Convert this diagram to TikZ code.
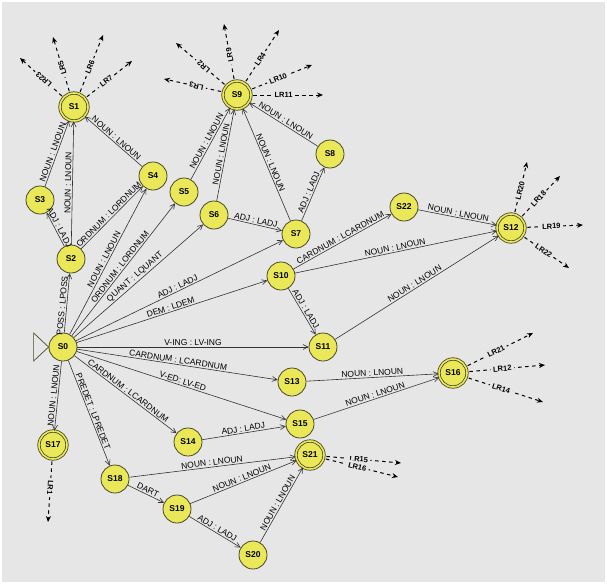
\documentclass[tikz,border=0pt]{standalone}
\usepackage{fontspec}
\setmainfont{Liberation Sans}
\setsansfont{Liberation Sans}
\usepackage{xcolor}
\usepackage{tikz}
\usetikzlibrary{arrows.meta}

\definecolor{bggrey}{RGB}{230,230,230}
\definecolor{stateyellow}{RGB}{234,231,88}
\definecolor{stateline}{RGB}{72,72,40}
\definecolor{edgeline}{RGB}{50,50,50}

\begin{document}
\begin{tikzpicture}[x=1pt,y=-1pt,
    state/.style={circle,draw=stateline,fill=stateyellow,line width=0.8pt,minimum size=28pt,inner sep=0pt,font=\fontsize{8.5}{9}\selectfont\bfseries},
    fin/.style={state,double=stateyellow,double distance=1.6pt},
    trans/.style={draw=edgeline,line width=0.6pt,-{Straight Barb[length=5pt,width=5pt]}},
    lab/.style={auto,sloped,inner sep=1.2pt,font=\fontsize{8.5}{9}\selectfont},
    lr/.style={draw=black,line width=1pt,dash pattern=on 3.5pt off 3.5pt,-{Stealth[length=6pt,width=5pt]},shorten <=2pt},
    lrlab/.style={sloped,allow upside down,fill=bggrey,pos=0.45,inner sep=2.5pt,font=\fontsize{7.5}{8}\selectfont\bfseries}]
        \useasboundingbox (0,0) rectangle (607,584);
        \fill[white] (0,0) rectangle (607,584);
        \fill[bggrey] (2,2) rectangle (605,582);

        % states
        \node[state] (s0) at (63,347) {S0};
        \node[fin]   (s1) at (74,107) {S1};
        \node[state] (s2) at (71,259) {S2};
        \node[state] (s3) at (40,200) {S3};
        \node[state] (s4) at (153,176) {S4};
        \node[state] (s5) at (184,192) {S5};
        \node[state] (s6) at (214,215) {S6};
        \node[state] (s7) at (296,234) {S7};
        \node[state] (s8) at (330,154) {S8};
        \node[fin]   (s9) at (237,95) {S9};
        \node[state] (s10) at (281,276) {S10};
        \node[state] (s11) at (323,347) {S11};
        \node[fin]   (s12) at (511,228) {S12};
        \node[state] (s13) at (292,382) {S13};
        \node[state] (s14) at (188,442) {S14};
        \node[state] (s15) at (300,424) {S15};
        \node[fin]   (s16) at (453,373) {S16};
        \node[fin]   (s17) at (53,445) {S17};
        \node[state] (s18) at (115,479) {S18};
        \node[state] (s19) at (177,509) {S19};
        \node[state] (s20) at (253,555) {S20};
        \node[fin]   (s21) at (310,455) {S21};
        \node[state] (s22) at (404,207) {S22};

        % start marker
        \draw[draw=stateline,line width=0.7pt] (s0.west) -- ++(-15,-14) -- ++(0,28) -- cycle;

        % free ends of the LR arrows
        \coordinate (t23) at (20,58);
        \coordinate (t5) at (53,37);
        \coordinate (t6) at (103,35);
        \coordinate (t7) at (132,61);
        \coordinate (t3) at (164,79);
        \coordinate (t2) at (176,43);
        \coordinate (t9) at (224,24);
        \coordinate (t4) at (279,30);
        \coordinate (t10) at (312,65);
        \coordinate (t11) at (323,95);
        \coordinate (t20) at (527,162);
        \coordinate (t18) at (560,176);
        \coordinate (t19) at (583,225);
        \coordinate (t22) at (569,268);
        \coordinate (t21) at (533,333);
        \coordinate (t12) at (545,365);
        \coordinate (t14) at (543,402);
        \coordinate (t15) at (401,463);
        \coordinate (t16) at (398,477);
        \coordinate (t1) at (48,522);

        % transitions
        \draw[trans] (s0)--node[lab,pos=0.45]{POSS : LPOSS}(s2);
        \draw[trans] (s2)--node[lab]{ADJ : LADJ}(s3);
        \draw[trans] (s3)--node[lab]{NOUN : LNOUN}(s1);
        \draw[trans] (s2)--node[lab]{NOUN : LNOUN}(s1);
        \draw[trans] (s2)--node[lab]{ORDNUM : LORDNUM}(s4);
        \draw[trans] (s4)--node[lab]{NOUN : LNOUN}(s1);
        \draw[trans] (s0)--node[lab]{NOUN : LNOUN}(s4);
        \draw[trans] (s0)--node[lab]{ORDNUM : LORDNUM}(s5);
        \draw[trans] (s0)--node[lab]{QUANT : LQUANT}(s6);
        \draw[trans] (s0)--node[lab]{ADJ : LADJ}(s7);
        \draw[trans] (s0)--node[lab]{DEM : LDEM}(s10);
        \draw[trans] (s0)--node[lab]{V-ING : LV-ING}(s11);
        \draw[trans] (s0)--node[lab]{CARDNUM : LCARDNUM}(s13);
        \draw[trans] (s0)--node[lab]{V-ED: LV-ED}(s15);
        \draw[trans] (s0)--node[lab]{CARDNUM : LCARDNUM}(s14);
        \draw[trans] (s0)--node[lab]{PREDET : LPREDET}(s18);
        \draw[trans] (s0)--node[lab]{NOUN : LNOUN}(s17);
        \draw[trans] (s5)--node[lab]{NOUN : LNOUN}(s9);
        \draw[trans] (s6)--node[lab]{NOUN : LNOUN}(s9);
        \draw[trans] (s6)--node[lab]{ADJ : LADJ}(s7);
        \draw[trans] (s7)--node[lab]{NOUN : LNOUN}(s9);
        \draw[trans] (s7)--node[lab]{ADJ : LADJ}(s8);
        \draw[trans] (s8)--node[lab]{NOUN : LNOUN}(s9);
        \draw[trans] (s10)--node[lab]{CARDNUM : LCARDNUM}(s22);
        \draw[trans] (s22)--node[lab]{NOUN : LNOUN}(s12);
        \draw[trans] (s10)--node[lab]{NOUN : LNOUN}(s12);
        \draw[trans] (s10)--node[lab]{ADJ : LADJ}(s11);
        \draw[trans] (s11)--node[lab]{NOUN : LNOUN}(s12);
        \draw[trans] (s13)--node[lab]{NOUN : LNOUN}(s16);
        \draw[trans] (s15)--node[lab]{NOUN : LNOUN}(s16);
        \draw[trans] (s14)--node[lab]{ADJ : LADJ}(s15);
        \draw[trans] (s18)--node[lab]{NOUN : LNOUN}(s21);
        \draw[trans] (s18)--node[lab]{DART}(s19);
        \draw[trans] (s19)--node[lab]{NOUN : LNOUN}(s21);
        \draw[trans] (s19)--node[lab]{ADJ : LADJ}(s20);
        \draw[trans] (s20)--node[lab]{NOUN : LNOUN}(s21);

        % LR arrows
        \draw[lr] (s1)--node[lrlab]{LR23}(t23);
        \draw[lr] (s1)--node[lrlab]{LR5}(t5);
        \draw[lr] (s1)--node[lrlab]{LR6}(t6);
        \draw[lr] (s1)--node[lrlab]{LR7}(t7);
        \draw[lr] (s9)--node[lrlab]{LR3}(t3);
        \draw[lr] (s9)--node[lrlab]{LR2}(t2);
        \draw[lr] (s9)--node[lrlab]{LR9}(t9);
        \draw[lr] (s9)--node[lrlab]{LR4}(t4);
        \draw[lr] (s9)--node[lrlab]{LR10}(t10);
        \draw[lr] (s9)--node[lrlab]{LR11}(t11);
        \draw[lr] (s12)--node[lrlab]{LR20}(t20);
        \draw[lr] (s12)--node[lrlab]{LR18}(t18);
        \draw[lr] (s12)--node[lrlab]{LR19}(t19);
        \draw[lr] (s12)--node[lrlab]{LR22}(t22);
        \draw[lr] (s16)--node[lrlab]{LR21}(t21);
        \draw[lr] (s16)--node[lrlab]{LR12}(t12);
        \draw[lr] (s16)--node[lrlab]{LR14}(t14);
        \draw[lr] (s21)--node[lrlab]{LR15}(t15);
        \draw[lr] (s21)--node[lrlab]{LR16}(t16);
        \draw[lr] (s17)--node[lrlab]{LR1}(t1);
    \end{tikzpicture}
\end{document}
